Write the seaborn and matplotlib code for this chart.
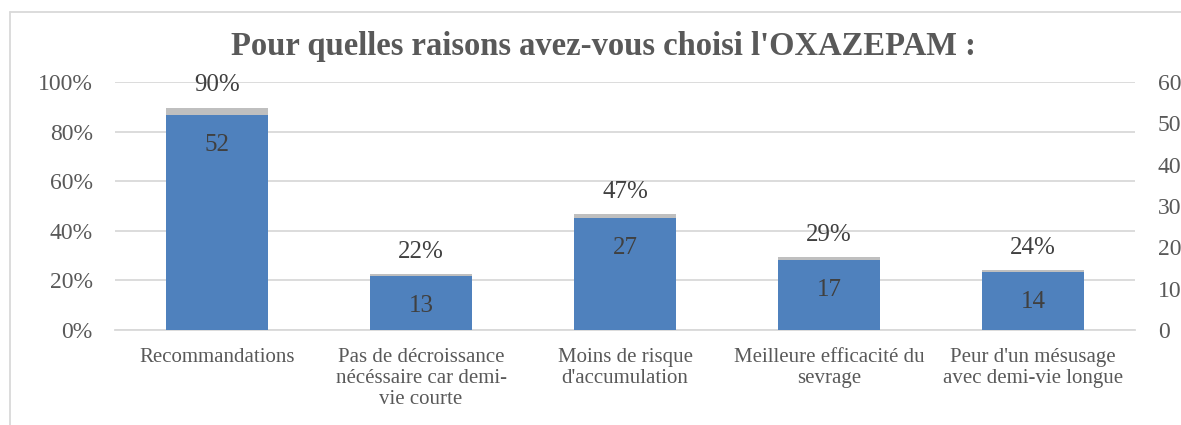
import matplotlib
matplotlib.use("Agg")
import matplotlib.pyplot as plt
import seaborn as sns
import pandas as pd
from matplotlib.lines import Line2D

categories = [
    "Recommandations",
    "Pas de décroissance\nnécéssaire car demi-\nvie courte",
    "Moins de risque\nd'accumulation",
    "Meilleure efficacité du\nsevrage",
    "Peur d'un mésusage\navec demi-vie longue",
]
percentages = [89.7, 22.4, 46.6, 29.3, 24.1]
pct_labels = ["90%", "22%", "47%", "29%", "24%"]
counts = [52, 13, 27, 17, 14]
title = "Pour quelles raisons avez-vous choisi l'OXAZEPAM :"

sns.set_theme(style="white")
plt.rcParams["font.family"] = ["Liberation Serif", "DejaVu Serif"]

df = pd.DataFrame({"cat": categories, "pct": percentages, "n": counts})

fig = plt.figure(figsize=(11.81, 4.25), dpi=100)
ax = fig.add_axes([115 / 1181, 1 - 330 / 425, 1020 / 1181, 248 / 425])
ax2 = ax.twinx()

grid_c = "#D9D9D9"
text_c = "#595959"
lab_c = "#404040"

sns.barplot(data=df, x="cat", y="pct", ax=ax, color="#BFBFBF", width=0.5,
            saturation=1, order=categories, linewidth=0)
sns.barplot(data=df, x="cat", y="n", ax=ax2, color="#4F81BD", width=0.5,
            saturation=1, order=categories, linewidth=0)

ax.set_ylim(0, 100)
ax2.set_ylim(0, 60)
ax.set_xlim(-0.5, len(categories) - 0.5)
ax.set_yticks([0, 20, 40, 60, 80, 100])
ax.set_yticklabels([f"{v}%" for v in [0, 20, 40, 60, 80, 100]])
ax2.set_yticks([0, 10, 20, 30, 40, 50, 60])
ax.yaxis.grid(True, color=grid_c, linewidth=1.3)
ax.set_axisbelow(True)
ax.set_xlabel("")
ax.set_ylabel("")
ax2.set_ylabel("")
ax2.set_xlabel("")
for a in (ax, ax2):
    for s in a.spines.values():
        s.set_visible(False)
ax.spines["bottom"].set_visible(True)
ax.spines["bottom"].set_color(grid_c)
ax.spines["bottom"].set_linewidth(1.3)

ax.tick_params(axis="y", length=0, pad=16, labelsize=17, labelcolor=text_c)
ax2.yaxis.set_tick_params(which="both", length=0, pad=16.5, labelsize=17,
                          labelcolor=text_c, right=True, labelright=True)
ax.tick_params(axis="x", length=0, pad=13, labelsize=15, labelcolor=text_c)
ax.set_xticks(range(len(categories)))
ax.set_xticklabels(categories, linespacing=1.15, va="top")

# percentage labels above the grey bars
for p, lab in zip(ax.patches, pct_labels):
    ax.annotate(lab, (p.get_x() + p.get_width() / 2, p.get_height()),
                xytext=(0, 16), textcoords="offset points",
                ha="center", va="center", fontsize=18, color=lab_c)

# count labels inside the blue bars
for p, n in zip(ax2.patches, counts):
    ax2.annotate(str(n), (p.get_x() + p.get_width() / 2, p.get_height()),
                 xytext=(0, -21.5), textcoords="offset points",
                 ha="center", va="center", fontsize=18, color=lab_c)

fig.text(603.5 / 1181, 1 - 46 / 425, title, ha="center", va="center",
         fontsize=23.5, fontweight="bold", color=text_c)

# chart border (partially visible)
fig.add_artist(Line2D([10 / 1181, 10 / 1181], [0, 1 - 12 / 425],
                      transform=fig.transFigure, color=grid_c, lw=1.3))
fig.add_artist(Line2D([10 / 1181, 1], [1 - 12 / 425, 1 - 12 / 425],
                      transform=fig.transFigure, color=grid_c, lw=1.3))

fig.savefig("out.png", dpi=100)
